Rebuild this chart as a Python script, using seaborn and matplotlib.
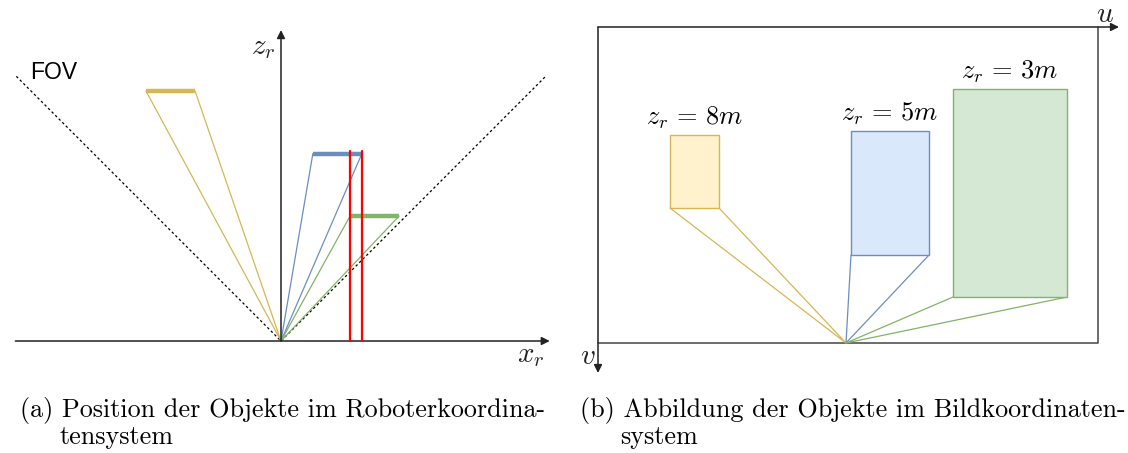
import matplotlib
matplotlib.use("Agg")
import matplotlib.pyplot as plt
from matplotlib.patches import Rectangle
import seaborn as sns
import pandas as pd

sns.set_theme(style="white")
plt.rcParams["mathtext.fontset"] = "cm"
plt.rcParams["font.family"] = ["Liberation Sans", "DejaVu Sans"]

# ---- robot frame (x_r, z_r), schematic units ----
obj_names = ["8m", "5m", "3m"]
obj_colors = ["#d6b656", "#6c8ebf", "#82b366"]
obj_fill = ["#fff2cc", "#dae8fc", "#d5e8d4"]
obj_x_left = [-4.32, 1.02, 2.21]
obj_x_right = [-2.75, 2.59, 3.78]
obj_z = [8.0, 6.0, 4.0]
fov_reach = 8.47
red_x = [2.21, 2.59]
red_top = 6.08

# ---- image frame (u, v) in pixels ----
img_w, img_h = 500, 316
principal_u = 248
rect_u0 = [72, 253, 355]
rect_u1 = [121, 331, 469]
rect_v0 = [108, 104, 62]
rect_v1 = [181, 228, 270]
rect_labels = [r"$z_r\,=\,8m$", r"$z_r\,=\,5m$", r"$z_r\,=\,3m$"]

W, H = 1128, 453
fig = plt.figure(figsize=(W / 100, H / 100), dpi=100)

# left panel: 31.25 px per unit, origin at pixel (281, 341)
s = 31.25
xl = (-8.9, 9.0)
zl = (-0.8, 10.5)
x0px = 281 + xl[0] * s
y0px = 341 - zl[0] * s
axL = fig.add_axes([x0px / W, (H - y0px) / H,
                    (xl[1] - xl[0]) * s / W, (zl[1] - zl[0]) * s / H])
axL.set_xlim(*xl)
axL.set_ylim(*zl)
axL.axis("off")

ink = "#222222"
# FOV boundaries
fov = pd.DataFrame({"x": [-fov_reach, 0, fov_reach],
                    "z": [fov_reach, 0, fov_reach]})
sns.lineplot(data=fov, x="x", y="z", sort=False, ax=axL, color="black",
             lw=0.9, linestyle=(0, (2, 2)), estimator=None)

# rays from the origin to each object's edges
for xa, xb, z, c in zip(obj_x_left, obj_x_right, obj_z, obj_colors):
    ray = pd.DataFrame({"x": [xa, 0, xb], "z": [z, 0, z]})
    sns.lineplot(data=ray, x="x", y="z", sort=False, ax=axL, color=c,
                 lw=0.9, estimator=None)
for xa, xb, z, c in zip(obj_x_left, obj_x_right, obj_z, obj_colors):
    axL.plot([xa, xb], [z, z], color=c, lw=3.2, solid_capstyle="butt",
             zorder=5)
for xr in red_x:
    axL.plot([xr, xr], [0, red_top], color="#ff0000", lw=1.6, zorder=6)

# coordinate axes
arrow = dict(arrowstyle="-|>", color=ink, lw=1.1, mutation_scale=12,
             shrinkA=0, shrinkB=0)
axL.annotate("", xy=(8.6, 0), xytext=(-8.5, 0), arrowprops=arrow)
axL.annotate("", xy=(0, 9.95), xytext=(0, 0), arrowprops=arrow)
axL.text(-0.58, 9.41, r"$z_r$", fontsize=21, ha="center", va="center",
         color=ink)
axL.text(8.0, -0.45, r"$x_r$", fontsize=21, ha="center", va="center",
         color=ink)
axL.text(-7.26, 8.58, "FOV", fontsize=16.5, ha="center", va="center",
         color="black")

# right panel: image plane, v downwards
ul = (-28, 528)
vl = (360, -25)
ax0 = 598 + ul[0]
ay0 = 27 + vl[0]
axR = fig.add_axes([ax0 / W, (H - ay0) / H,
                    (ul[1] - ul[0]) / W, (vl[0] - vl[1]) / H])
axR.set_xlim(*ul)
axR.set_ylim(*vl)
axR.axis("off")

frame = "#444444"
axR.plot([img_w, img_w, 0], [0, img_h, img_h], color=frame, lw=1.1)
axR.annotate("", xy=(img_w + 21, 0), xytext=(0, 0),
             arrowprops=dict(arrow, color=ink))
axR.annotate("", xy=(0, img_h + 30), xytext=(0, 0),
             arrowprops=dict(arrow, color=ink))
axR.text(img_w + 7, -13, r"$u$", fontsize=21, ha="center", va="center",
         color=ink)
axR.text(-10, img_h + 13, r"$v$", fontsize=21, ha="center", va="center",
         color=ink)

for u0, u1, v0, v1, c, f, lab in zip(rect_u0, rect_u1, rect_v0, rect_v1,
                                     obj_colors, obj_fill, rect_labels):
    axR.add_patch(Rectangle((u0, v0), u1 - u0, v1 - v0, facecolor=f,
                            edgecolor=c, lw=1.0, zorder=3))
    ray = pd.DataFrame({"u": [u0, principal_u, u1], "v": [v1, img_h, v1]})
    sns.lineplot(data=ray, x="u", y="v", sort=False, ax=axR, color=c,
                 lw=0.9, estimator=None)
    axR.text((u0 + u1) / 2, v0 - 17, lab, fontsize=19, ha="center",
             va="center", color="black")

for ax in (axL, axR):
    ax.set_xlabel("")
    ax.set_ylabel("")

# sub-captions
cap = dict(fontsize=18.8, family="cmr10", color="black", va="center")
fig.text(20 / W, 1 - 410 / H, "(a) Position der Objekte im Roboterkoordina-",
         **cap)
fig.text(60 / W, 1 - 437 / H, "tensystem", **cap)
fig.text(580 / W, 1 - 410 / H,
         "(b) Abbildung der Objekte im Bildkoordinaten-", **cap)
fig.text(620 / W, 1 - 437 / H, "system", **cap)

fig.savefig("out.png", dpi=100, facecolor="white")
